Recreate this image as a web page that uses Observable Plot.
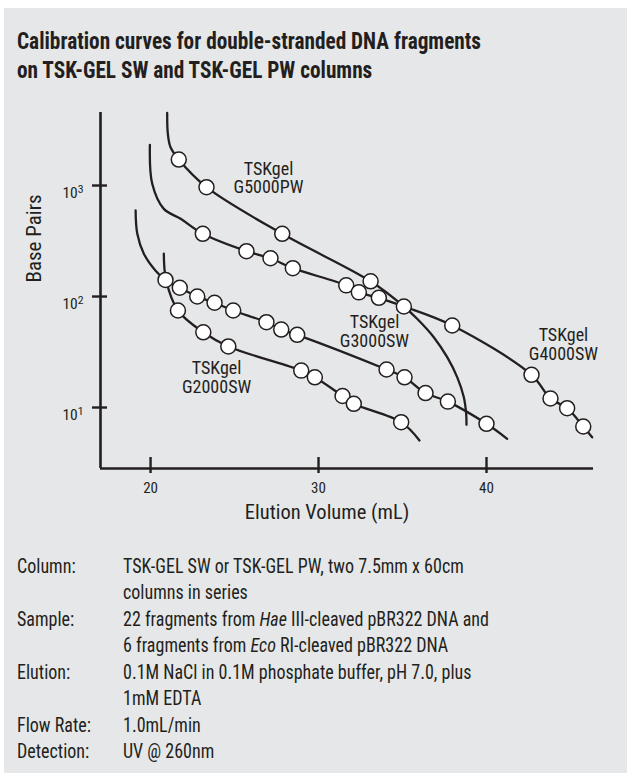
<!DOCTYPE html>
<html><head><meta charset="utf-8">
<script src="https://cdn.jsdelivr.net/npm/d3@7"></script>
<script src="https://cdn.jsdelivr.net/npm/@observablehq/plot@0.6"></script>
<style>
body{margin:0;background:#fff;}
#box{position:absolute;left:4px;top:8px;width:623px;height:765px;background:#e6e7e8;overflow:hidden;}
.f{font-family:Roboto,"Roboto Condensed",sans-serif;font-stretch:75%;color:#231f20;}
#title{position:absolute;left:13px;top:18.5px;font-weight:bold;font-size:23.5px;line-height:29px;white-space:nowrap;transform-origin:0 0;}
#chart{position:absolute;left:-4px;top:92px;}
#cap{position:absolute;left:13px;top:544.6px;font-size:21px;line-height:26.5px;display:grid;grid-template-columns:106px auto;white-space:nowrap;transform-origin:0 0;}
</style></head>
<body>
<div id="box">
  <div id="title" class="f">Calibration curves for double-stranded DNA fragments<br>on TSK-GEL SW and TSK-GEL PW columns</div>
  <div id="chart"></div>
  <div id="cap" class="f">
    <div>Column:</div><div>TSK-GEL SW or TSK-GEL PW, two 7.5mm x 60cm<br>columns in series</div>
    <div>Sample:</div><div id="widest">22 fragments from <i>Hae</i> III-cleaved pBR322 DNA and<br>6 fragments from <i>Eco</i> RI-cleaved pBR322 DNA</div>
    <div>Elution:</div><div>0.1M NaCl in 0.1M phosphate buffer, pH 7.0, plus<br>1mM EDTA</div>
    <div>Flow Rate:</div><div>1.0mL/min</div>
    <div>Detection:</div><div>UV @ 260nm</div>
  </div>
</div>
<script>
// ---- data (x = elution volume mL, y = base pairs) ----
const g5000pwPoints = [[21.68,1714],[23.33,966],[27.84,367],[33.10,137]];
const g5000pwCurve  = [[20.99,4500],[21.03,2924],[21.19,2213],[21.68,1714],[23.33,966],[27.84,367],[33.10,137],[35.08,81.3],[35.87,63.0],[36.86,43.0],[37.66,28.4],[38.26,18.7],[38.65,12.4],[38.79,8.77],[38.81,6.98]];

const g4000swPoints = [[23.11,367],[25.71,256],[27.14,221],[28.47,180],[31.65,126],[32.40,109],[33.59,97.3],[35.08,81.3],[37.96,54.8],[42.68,19.7],[43.81,12.05],[44.80,9.86],[45.76,6.75]];
const g4000swCurve  = [[19.96,2327],[20.10,1036],[20.79,616],[21.79,501],[23.11,367],[25.71,256],[27.14,221],[28.47,180],[31.65,126],[32.40,109],[33.59,97.3],[35.08,81.3],[37.96,54.8],[42.68,19.7],[43.81,12.05],[44.80,9.86],[45.76,6.75],[46.29,5.39]];

const g3000swPoints = [[20.89,141],[21.74,120],[22.78,100],[23.81,87.8],[24.92,74.8],[26.90,58.7],[27.78,50.4],[28.73,45.2],[34.05,22.0],[35.12,18.7],[36.37,13.5],[37.70,11.3],[40.00,7.13]];
const g3000swCurve  = [[19.11,596],[19.21,367],[19.60,243],[20.30,171],[20.89,141],[21.74,120],[22.78,100],[23.81,87.8],[24.92,74.8],[26.90,58.7],[27.78,50.4],[28.73,45.2],[34.05,22.0],[35.12,18.7],[36.37,13.5],[37.70,11.3],[40.00,7.13],[41.23,5.22]];

const g2000swPoints = [[21.63,74.8],[23.14,47.6],[24.63,35.5],[28.97,21.5],[29.78,18.7],[31.43,12.7],[32.10,10.8],[34.92,7.38]];
const g2000swCurve  = [[20.79,243],[20.92,142],[21.63,74.8],[23.14,47.6],[24.63,35.5],[28.97,21.5],[29.78,18.7],[31.43,12.7],[32.10,10.8],[34.92,7.38],[36.01,5.05]];

const seriesLabels = [
  {text:"TSKgel\nG5000PW", x:27.02, y:1169},
  {text:"TSKgel\nG3000SW", x:33.33, y:48.4},
  {text:"TSKgel\nG4000SW", x:44.58, y:37.3},
  {text:"TSKgel\nG2000SW", x:23.93, y:18.6}
];

const xTicks = [20, 30, 40];
const yTicks = [10, 100, 1000];
const yTickBase = "10";
const yTickExponents = ["1", "2", "3"];
const xDomain = [17.02, 46.37];
const yDomain = [2.822, 4548];
const xTitle = "Elution Volume (mL)";
const yTitle = "Base Pairs";

const ink = "#231f20";
const curves = [g5000pwCurve, g4000swCurve, g3000swCurve, g2000swCurve];
const points = [g5000pwPoints, g4000swPoints, g3000swPoints, g2000swPoints];

const chart = Plot.plot({
  width: 620, height: 440,
  marginLeft: 100, marginRight: 27, marginTop: 12, marginBottom: 72,
  style: {fontFamily: 'Roboto,"Roboto Condensed",sans-serif', fontStretch: "75%", color: ink, background: "transparent", overflow: "visible"},
  x: {domain: xDomain},
  y: {type: "log", domain: yDomain},
  marks: [
    ...curves.map(c => Plot.line(c, {x: d => d[0], y: d => d[1], curve: "catmull-rom", stroke: ink, strokeWidth: 2.3})),
    ...points.map(p => Plot.dot(p, {x: d => d[0], y: d => d[1], r: 7.5, fill: "white", stroke: ink, strokeWidth: 1.5})),
    Plot.text(seriesLabels, {x: "x", y: "y", text: "text", fontSize: 18, lineHeight: 1.05, fill: ink}),
    Plot.ruleY([yDomain[0]], {stroke: ink, strokeWidth: 2.6}),
    Plot.ruleX([xDomain[0]], {stroke: ink, strokeWidth: 2.6}),
    Plot.axisX({ticks: xTicks, tickSize: 16, dy: -11, tickPadding: 9, fontSize: 15, strokeWidth: 2.4, stroke: ink, fill: ink, label: null}),
    Plot.axisY({ticks: yTicks, tickFormat: d => yTickBase + "^" + yTickExponents[yTicks.indexOf(d)], tickSize: 15, dx: 7, tickPadding: 9, fontSize: 15.5, strokeWidth: 2.4, stroke: ink, fill: ink, label: null}),
    Plot.text([xTitle], {text: d => d, frameAnchor: "bottom", dx: -20, dy: 50, fontSize: 20.5, fill: ink}),
    Plot.text([yTitle], {text: d => d, frameAnchor: "left", rotate: -90, dx: -66, dy: -8, fontSize: 21, fill: ink})
  ]
});
document.getElementById("chart").appendChild(chart);

// render y tick labels as 10 with a raised exponent
d3.select(chart).selectAll('g[aria-label="y-axis tick label"] text').each(function () {
  const t = d3.select(this);
  const [base, exp] = t.text().split("^");
  if (exp === undefined) return;
  t.text(base).attr("dy", "0.5em");
  t.append("tspan").attr("dy", "-0.42em").attr("font-size", "0.76em").text(exp);
});

// squeeze HTML text horizontally to the reference's condensed widths
function textWidth(el) { const r = document.createRange(); r.selectNodeContents(el); return r.getBoundingClientRect().width; }
const title = document.getElementById("title");
title.style.transform = `scaleX(${464 / textWidth(title)})`;
const cap = document.getElementById("cap");
const s = 366 / textWidth(document.getElementById("widest"));
cap.style.gridTemplateColumns = `${106 / s}px auto`;
cap.style.transform = `scaleX(${s})`;
</script>
</body></html>
